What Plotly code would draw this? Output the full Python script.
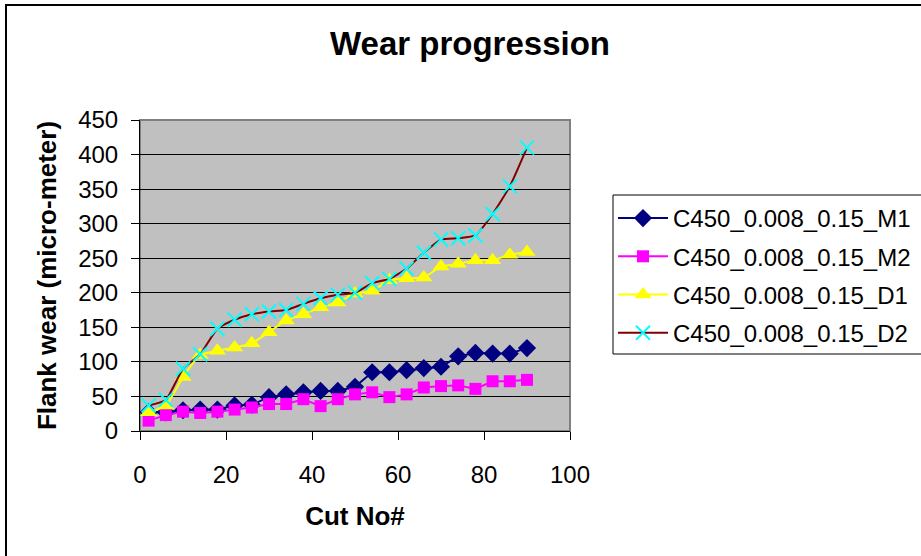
import plotly.graph_objects as go

# Cut numbers and measured flank wear for each tool
cut_no = [2, 6, 10, 14, 18, 22, 26, 30, 34, 38, 42, 46, 50, 54, 58, 62, 66, 70, 74, 78, 82, 86, 90]

wear_m1 = [27, 27, 30, 31, 31, 37, 38, 49, 53, 56, 58, 58, 64, 85, 85, 88, 91, 93, 108, 113, 112, 112, 120]
wear_m2 = [15, 23, 28, 26, 28, 31, 34, 39, 39, 46, 36, 46, 53, 56, 49, 53, 63, 65, 66, 61, 72, 72, 74]
wear_d1 = [27, 37, 78, 110, 116, 121, 127, 143, 160, 169, 179, 186, 199, 203, 218, 221, 222, 238, 242, 247, 247, 255, 259]
wear_d2 = [37, 45, 90, 111, 148, 161, 169, 173, 175, 184, 192, 197, 200, 214, 220, 235, 258, 277, 279, 283, 314, 354, 410]

series_names = ["C450_0.008_0.15_M1", "C450_0.008_0.15_M2",
                "C450_0.008_0.15_D1", "C450_0.008_0.15_D2"]

FONT = "Arial, 'Liberation Sans', sans-serif"

fig = go.Figure()

fig.add_trace(go.Scatter(
    x=cut_no, y=wear_m1, name=series_names[0], legendgroup="m1",
    mode="lines+markers",
    line=dict(color="#000080", width=2),
    marker=dict(symbol="diamond", size=14, color="#000080"),
))
fig.add_trace(go.Scatter(
    x=cut_no, y=wear_m2, name=series_names[1], legendgroup="m2",
    mode="lines+markers",
    line=dict(color="#FF00FF", width=2),
    marker=dict(symbol="square", size=12, color="#FF00FF"),
))
fig.add_trace(go.Scatter(
    x=cut_no, y=wear_d1, name=series_names[2], legendgroup="d1",
    mode="lines+markers",
    line=dict(color="#FFFF00", width=2, shape="spline", smoothing=0.5),
    marker=dict(symbol="triangle-up", size=15, color="#FFFF00"),
))
fig.add_trace(go.Scatter(
    x=cut_no, y=wear_d2, name=series_names[3], legendgroup="d2",
    mode="lines+markers",
    line=dict(color="#800000", width=2, shape="spline", smoothing=0.5),
    marker=dict(symbol="x-thin-open", size=14, color="#00FFFF",
                line=dict(color="#00FFFF", width=2)),
))

# Plot-area geometry in pixels
L, R, T, B = 140, 570, 120, 431
W, H = 921, 556


def px_x(px):
    return (px - L) / (R - L)


def px_y(py):
    return (B - py) / (B - T)


fig.update_layout(
    width=W, height=H,
    margin=dict(l=L, r=W - R, t=T, b=H - B, autoexpand=False),
    paper_bgcolor="white",
    plot_bgcolor="#C0C0C0",
    font=dict(family=FONT, size=24, color="black"),
    title=dict(text="<b>Wear progression</b>", x=px_x(470), xref="paper",
               xanchor="center", y=1 - 43 / H, yanchor="middle",
               font=dict(family=FONT, size=33, color="black")),
    xaxis=dict(
        range=[0, 100], dtick=20, showgrid=False, zeroline=False,
        showline=True, linecolor="black", linewidth=1,
        ticks="outside", ticklen=8, tickcolor="black", ticklabelstandoff=14,
        tickfont=dict(family=FONT, size=24),
        title=dict(text="<b>Cut No#</b>", standoff=20,
                   font=dict(family=FONT, size=26)),
    ),
    yaxis=dict(
        range=[0, 450], dtick=50, showgrid=True, gridcolor="black", gridwidth=1,
        zeroline=False, showline=True, linecolor="black", linewidth=1,
        ticks="outside", ticklen=8, tickcolor="black", ticklabelstandoff=8,
        tickfont=dict(family=FONT, size=24),
        title=dict(text="<b>Flank wear (micro-meter)</b>", standoff=14,
                   font=dict(family=FONT, size=26)),
    ),
    legend=dict(
        x=px_x(613), y=px_y(196), xanchor="left", yanchor="top",
        bgcolor="rgba(0,0,0,0)", borderwidth=0,
        font=dict(family=FONT, size=24),
        itemwidth=50,
        traceorder="grouped", tracegroupgap=4,
    ),
    showlegend=True,
    shapes=[
        # gray frame around plot area (top/right edges)
        dict(type="rect", xref="paper", yref="paper", x0=0, x1=1, y0=0, y1=1,
             line=dict(color="#808080", width=2), layer="below"),
        # legend box, running past the right edge of the chart
        dict(type="rect", xref="paper", yref="paper",
             x0=px_x(613), x1=px_x(980), y0=px_y(354), y1=px_y(195),
             line=dict(color="black", width=1), fillcolor="white",
             layer="below"),
        # outer chart border
        dict(type="rect", xref="paper", yref="paper",
             x0=px_x(6), x1=px_x(960), y0=px_y(600), y1=px_y(5),
             line=dict(color="black", width=2)),
    ],
)

fig.write_html("out.html")
